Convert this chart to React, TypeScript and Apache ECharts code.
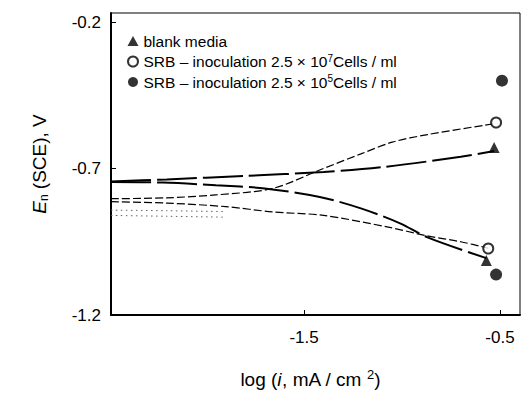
import React, { useEffect, useRef } from "react";
import * as echarts from "echarts";

// x = log(i, mA/cm2), y = E (SCE), V
const blankAnodicX = [-2.485, -2.2, -1.8, -1.4, -1.1, -0.7, -0.53];
const blankAnodicY = [-0.744, -0.737, -0.725, -0.712, -0.695, -0.66, -0.64];
const blankCathodicX = [-2.485, -2.22, -1.95, -1.7, -1.42, -1.21, -1.01, -0.87, -0.57];
const blankCathodicY = [-0.746, -0.748, -0.757, -0.768, -0.797, -0.836, -0.887, -0.935, -1.006];

const srb7AnodicX = [-2.485, -2.2, -1.95, -1.66, -1.42, -1.21, -1.05, -0.87, -0.54];
const srb7AnodicY = [-0.803, -0.8, -0.79, -0.768, -0.705, -0.65, -0.61, -0.584, -0.548];
const srb7CathodicX = [-2.485, -2.2, -1.9, -1.66, -1.4, -1.07, -0.87, -0.7, -0.56];
const srb7CathodicY = [-0.813, -0.818, -0.83, -0.848, -0.86, -0.9, -0.93, -0.95, -0.972];

const srb5AnodicX = [-2.485, -2.2, -1.9];
const srb5AnodicY = [-0.842, -0.844, -0.847];
const srb5CathodicX = [-2.485, -2.2, -1.9];
const srb5CathodicY = [-0.86, -0.863, -0.866];

const blankMarkX = [-0.53, -0.57];
const blankMarkY = [-0.628, -1.014];
const srb7MarkX = [-0.52, -0.56];
const srb7MarkY = [-0.543, -0.973];
const srb5MarkX = [-0.49, -0.52];
const srb5MarkY = [-0.4, -1.062];

const xTicks = [-1.5, -0.5];
const yTicks = [-1.2, -0.7, -0.2];

const names = [
  "blank media",
  "SRB – inoculation 2.5 × 10^7Cells / ml",
  "SRB – inoculation 2.5 × 10^5Cells / ml",
];

const pts = (xs: number[], ys: number[]) => xs.map((x, i) => [x, ys[i]]);

const FONT = "'Liberation Sans', Arial, Helvetica, sans-serif";

export default function App() {
  const ref = useRef<HTMLDivElement>(null);
  useEffect(() => {
    if (!ref.current) return;
    const chart = echarts.init(ref.current, undefined, { renderer: "svg" });
    const lineBase = (name: string, data: number[][], lineStyle: any) => ({
      name,
      type: "line",
      data,
      symbol: "none",
      smooth: 0.3,
      silent: true,
      lineStyle,
      z: 2,
    });
    const blankStyle = { color: "#000", width: 2, type: [40, 6] };
    const srb7Style = { color: "#000", width: 1.2, type: [8, 3] };
    const srb5Style = { color: "#666", width: 1, type: [1.5, 3.5] };
    chart.setOption({
      animation: false,
      backgroundColor: "#fff",
      textStyle: { fontFamily: FONT },
      grid: {
        left: 111,
        right: 2,
        top: 13,
        bottom: 79,
        show: true,
        borderColor: "#000",
        borderWidth: 1,
      },
      legend: {
        orient: "vertical",
        left: 122,
        top: 28,
        itemGap: 4,
        itemWidth: 11,
        itemHeight: 10,
        data: names,
        formatter: (n: string) => {
          if (n.indexOf("^") < 0) return "{a|" + n + "}";
          const [pre, rest] = n.split("^");
          return "{a|" + pre + "}{sup|" + rest[0] + "}{a|" + rest.slice(1) + "}";
        },
        textStyle: {
          fontFamily: FONT,
          color: "#000",
          rich: {
            a: { fontSize: 15.5, lineHeight: 17, fontFamily: FONT, color: "#000" },
            sup: { fontSize: 10, lineHeight: 8, verticalAlign: "top", fontFamily: FONT, color: "#000" },
          },
        },
      },
      xAxis: {
        type: "value",
        min: -2.485,
        max: -0.398,
        name: "{a|log (}{i|i}{a|, mA / cm }{sup|2}{a|)}",
        nameLocation: "middle",
        nameGap: 53,
        nameTextStyle: {
          padding: [0, 10, 0, 0],
          rich: {
            a: { fontSize: 19, lineHeight: 22, fontFamily: FONT, color: "#000" },
            i: { fontSize: 19, lineHeight: 22, fontStyle: "italic", fontFamily: FONT, color: "#000" },
            sup: { fontSize: 13, lineHeight: 11, verticalAlign: "top", fontFamily: FONT, color: "#000" },
          },
        },
        axisLine: { show: true, onZero: false, lineStyle: { color: "#000", width: 2 } },
        axisTick: { show: true, inside: true, length: 5, customValues: xTicks, lineStyle: { color: "#000", width: 1 } },
        axisLabel: {
          customValues: xTicks,
          margin: 14,
          fontSize: 17,
          color: "#000",
          fontFamily: FONT,
          formatter: (v: number) => v.toFixed(1),
        },
        splitLine: { show: false },
      },
      yAxis: {
        type: "value",
        min: -1.2,
        max: -0.169,
        name: "{i|E}{sub|n}{a| (SCE), V}",
        nameLocation: "middle",
        nameGap: 61,
        nameTextStyle: {
          rich: {
            a: { fontSize: 19, lineHeight: 22, fontFamily: FONT, color: "#000" },
            i: { fontSize: 19, lineHeight: 22, fontStyle: "italic", fontFamily: FONT, color: "#000" },
            sub: { fontSize: 12, lineHeight: 10, verticalAlign: "bottom", fontFamily: FONT, color: "#000" },
          },
        },
        axisLine: { show: true, onZero: false, lineStyle: { color: "#000", width: 2 } },
        axisTick: { show: true, inside: true, length: 5, customValues: yTicks, lineStyle: { color: "#000", width: 1 } },
        axisLabel: {
          customValues: yTicks,
          margin: 10,
          fontSize: 17,
          color: "#000",
          fontFamily: FONT,
          formatter: (v: number) => v.toFixed(1),
        },
        splitLine: { show: false },
      },
      series: [
        lineBase("blankA", pts(blankAnodicX, blankAnodicY), blankStyle),
        lineBase("blankC", pts(blankCathodicX, blankCathodicY), blankStyle),
        lineBase("srb7A", pts(srb7AnodicX, srb7AnodicY), srb7Style),
        lineBase("srb7C", pts(srb7CathodicX, srb7CathodicY), srb7Style),
        lineBase("srb5A", pts(srb5AnodicX, srb5AnodicY), srb5Style),
        lineBase("srb5C", pts(srb5CathodicX, srb5CathodicY), srb5Style),
        {
          name: names[0],
          type: "scatter",
          symbol: "triangle",
          symbolSize: 11,
          itemStyle: { color: "#000" },
          data: pts(blankMarkX, blankMarkY),
          z: 3,
        },
        {
          name: names[1],
          type: "scatter",
          symbol: "emptyCircle",
          symbolSize: 10,
          itemStyle: { color: "#000", borderColor: "#000", borderWidth: 1.2 },
          data: pts(srb7MarkX, srb7MarkY),
          z: 3,
        },
        {
          name: names[2],
          type: "scatter",
          symbol: "circle",
          symbolSize: 12,
          itemStyle: { color: "#000" },
          data: pts(srb5MarkX, srb5MarkY),
          z: 3,
        },
      ],
    });
    return () => chart.dispose();
  }, []);
  return <div ref={ref} style={{ width: 522, height: 394, position: "absolute", left: 0, top: 0 }} />;
}
